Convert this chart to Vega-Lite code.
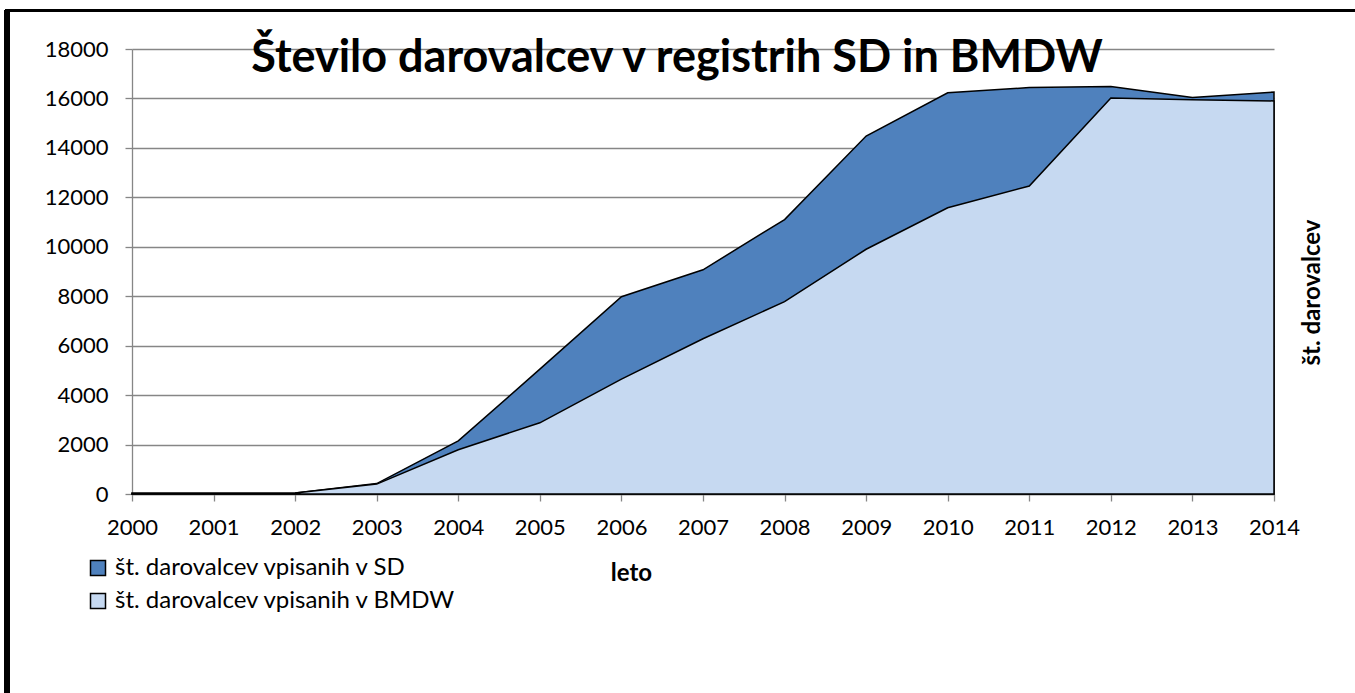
{
  "$schema": "https://vega.github.io/schema/vega-lite/v6.json",
  "width": 1142,
  "height": 445,
  "autosize": {"type": "none"},
  "padding": {"left": 132, "top": 49, "right": 81, "bottom": 199},
  "background": "white",
  "config": {
    "font": "Lato",
    "view": {"stroke": null},
    "axis": {
      "labelFont": "Lato", "labelFontSize": 22, "labelColor": "black",
      "titleFont": "Lato", "titleFontSize": 24, "titleFontWeight": "bold", "titleColor": "black",
      "domainColor": "#868686", "tickColor": "#868686", "gridColor": "#868686",
      "tickSize": 7, "domainWidth": 1.3, "tickWidth": 1.3, "gridWidth": 1.3
    },
    "legend": {"labelFont": "Lato", "labelFontSize": 24, "labelColor": "black", "labelLimit": 0}
  },
  "title": {
    "text": "Število darovalcev v registrih SD in BMDW",
    "font": "Lato", "fontSize": 45, "fontWeight": "bold", "color": "black",
    "anchor": "middle", "frame": "group", "dx": -26, "offset": 0, "dy": 110, "baseline": "alphabetic"
  },
  "data": {"values": [
    {"year": 2000, "series": "št. darovalcev vpisanih v SD", "value": 30},
    {"year": 2001, "series": "št. darovalcev vpisanih v SD", "value": 30},
    {"year": 2002, "series": "št. darovalcev vpisanih v SD", "value": 40},
    {"year": 2003, "series": "št. darovalcev vpisanih v SD", "value": 420},
    {"year": 2004, "series": "št. darovalcev vpisanih v SD", "value": 2150},
    {"year": 2005, "series": "št. darovalcev vpisanih v SD", "value": 5050},
    {"year": 2006, "series": "št. darovalcev vpisanih v SD", "value": 7980},
    {"year": 2007, "series": "št. darovalcev vpisanih v SD", "value": 9070},
    {"year": 2008, "series": "št. darovalcev vpisanih v SD", "value": 11100},
    {"year": 2009, "series": "št. darovalcev vpisanih v SD", "value": 14480},
    {"year": 2010, "series": "št. darovalcev vpisanih v SD", "value": 16230},
    {"year": 2011, "series": "št. darovalcev vpisanih v SD", "value": 16440},
    {"year": 2012, "series": "št. darovalcev vpisanih v SD", "value": 16480},
    {"year": 2013, "series": "št. darovalcev vpisanih v SD", "value": 16040},
    {"year": 2014, "series": "št. darovalcev vpisanih v SD", "value": 16260},
    {"year": 2000, "series": "št. darovalcev vpisanih v BMDW", "value": 30},
    {"year": 2001, "series": "št. darovalcev vpisanih v BMDW", "value": 30},
    {"year": 2002, "series": "št. darovalcev vpisanih v BMDW", "value": 40},
    {"year": 2003, "series": "št. darovalcev vpisanih v BMDW", "value": 400},
    {"year": 2004, "series": "št. darovalcev vpisanih v BMDW", "value": 1790},
    {"year": 2005, "series": "št. darovalcev vpisanih v BMDW", "value": 2880},
    {"year": 2006, "series": "št. darovalcev vpisanih v BMDW", "value": 4650},
    {"year": 2007, "series": "št. darovalcev vpisanih v BMDW", "value": 6280},
    {"year": 2008, "series": "št. darovalcev vpisanih v BMDW", "value": 7780},
    {"year": 2009, "series": "št. darovalcev vpisanih v BMDW", "value": 9900},
    {"year": 2010, "series": "št. darovalcev vpisanih v BMDW", "value": 11580},
    {"year": 2011, "series": "št. darovalcev vpisanih v BMDW", "value": 12460},
    {"year": 2012, "series": "št. darovalcev vpisanih v BMDW", "value": 16020},
    {"year": 2013, "series": "št. darovalcev vpisanih v BMDW", "value": 15950},
    {"year": 2014, "series": "št. darovalcev vpisanih v BMDW", "value": 15900}
  ]},
  "layer": [
    {
      "transform": [{"filter": "datum.series === 'št. darovalcev vpisanih v SD'"}],
      "mark": {"type": "area", "stroke": "black", "strokeWidth": 1.5, "opacity": 1, "interpolate": "linear"},
      "encoding": {
        "x": {"field": "year", "type": "quantitative",
              "scale": {"domain": [2000, 2014], "nice": false, "zero": false},
              "axis": {"values": [2000,2001,2002,2003,2004,2005,2006,2007,2008,2009,2010,2011,2012,2013,2014],
                       "format": "d", "grid": false, "labelPadding": 16, "labelFlush": false,
                       "title": "leto", "titleX": 499, "titleY": 86, "titleAlign": "center", "titleBaseline": "alphabetic"}},
        "y": {"field": "value", "type": "quantitative", "stack": null,
              "scale": {"domain": [0, 18000], "nice": false},
              "axis": {"orient": "left", "values": [0,2000,4000,6000,8000,10000,12000,14000,16000,18000],
                       "grid": true, "title": null, "labelPadding": 17, "format": "d"}},
        "color": {"field": "series", "type": "nominal",
                  "scale": {"domain": ["št. darovalcev vpisanih v SD", "št. darovalcev vpisanih v BMDW"], "range": ["#4F81BD", "#C6D9F1"]},
                  "legend": {"title": null, "orient": "none", "legendX": -46, "legendY": 507,
                             "symbolType": "square", "symbolSize": 225, "symbolStrokeColor": "black", "symbolStrokeWidth": 1.5,
                             "symbolOpacity": 1, "labelOffset": 5, "rowPadding": 9}}
      }
    },
    {
      "transform": [{"filter": "datum.series === 'št. darovalcev vpisanih v BMDW'"}],
      "mark": {"type": "area", "stroke": "black", "strokeWidth": 1.5, "opacity": 1, "interpolate": "linear"},
      "encoding": {
        "x": {"field": "year", "type": "quantitative", "scale": {"domain": [2000, 2014], "nice": false, "zero": false}},
        "y": {"field": "value", "type": "quantitative", "stack": null,
              "scale": {"domain": [0, 18000], "nice": false},
              "axis": {"orient": "right", "labels": false, "ticks": false, "domain": false, "grid": false,
                       "title": "št. darovalcev", "titleAngle": -90, "titleX": 38, "titleY": 243,
                       "titleAlign": "center", "titleBaseline": "middle"}},
        "color": {"field": "series", "type": "nominal"}
      }
    },
    {
      "mark": {"type": "rule", "color": "black", "strokeWidth": 5, "clip": false},
      "encoding": {
        "x": {"datum": 1998.47, "type": "quantitative", "scale": {"domain": [2000, 2014], "nice": false, "zero": false}},
        "y": {"datum": 19580, "type": "quantitative", "scale": {"domain": [0, 18000], "nice": false}, "axis": null},
        "y2": {"datum": -9000}
      }
    },
    {
      "mark": {"type": "rule", "color": "black", "strokeWidth": 3, "clip": false},
      "encoding": {
        "x": {"datum": 1998.45, "type": "quantitative", "scale": {"domain": [2000, 2014], "nice": false, "zero": false}},
        "x2": {"datum": 2016},
        "y": {"datum": 19560, "type": "quantitative", "scale": {"domain": [0, 18000], "nice": false}, "axis": null}
      }
    }
  ],
  "resolve": {"axis": {"y": "independent"}}
}
